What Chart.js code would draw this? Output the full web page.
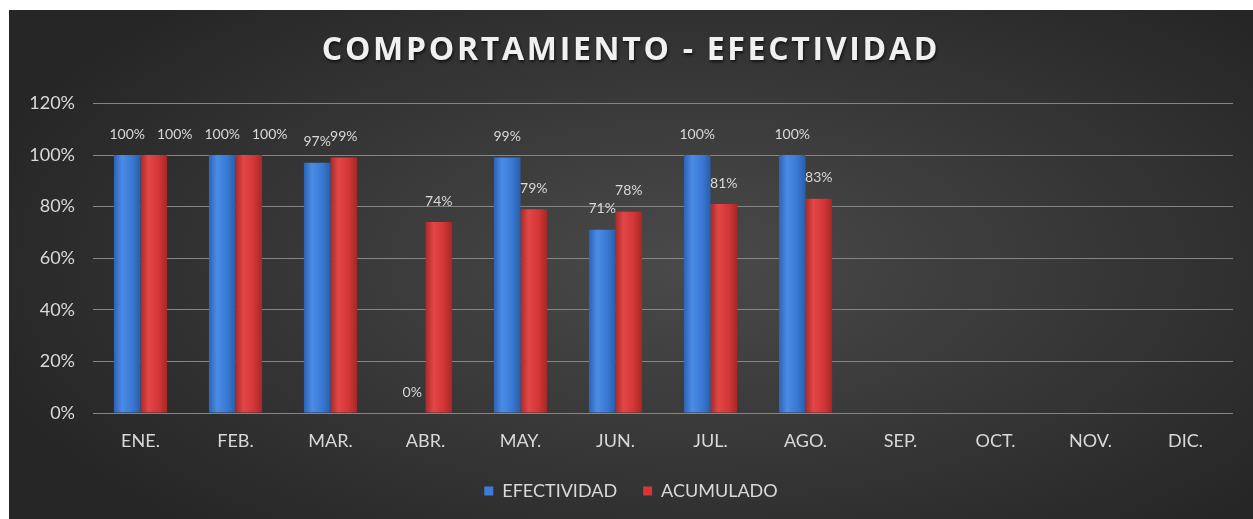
<!DOCTYPE html>
<html>
<head>
<meta charset="utf-8">
<script src="https://cdn.jsdelivr.net/npm/chart.js@4"></script>
<style>
  html,body{margin:0;padding:0;background:#fff;}
  #caja{position:absolute;left:9px;top:10px;width:1244px;height:509px;
    background:radial-gradient(ellipse 60% 70% at 55% 50%, #4a4a4a 0%, #3a3a3a 45%, #262626 100%);}
</style>
</head>
<body>
<div id="caja"><canvas id="grafica"></canvas></div>
<script>
// Datos
const meses = ['ENE.','FEB.','MAR.','ABR.','MAY.','JUN.','JUL.','AGO.','SEP.','OCT.','NOV.','DIC.'];
const efectividad = [100,100,97,0,99,71,100,100,null,null,null,null];
const acumulado = [100,100,99,74,79,78,81,83,null,null,null,null];
const ticksY = [0,20,40,60,80,100,120];

const fuente = 'Lato, "Open Sans", sans-serif';
const gris = '#d9d9d9';
const colores = [
  ['#2c62b4','#4a8ce6','#3878d2','#2a5ea8'],  // azul
  ['#a92a2a','#e24646','#d23535','#a52828']   // rojo
];

// Relleno con degradado horizontal en cada barra (efecto cilindro)
const degradado = {
  id:'degradado',
  beforeDatasetsDraw(chart){
    const ctx = chart.ctx;
    chart.data.datasets.forEach((ds,i)=>{
      const c = colores[i];
      chart.getDatasetMeta(i).data.forEach(bar=>{
        const x0 = bar.x - bar.width/2, x1 = bar.x + bar.width/2;
        const g = ctx.createLinearGradient(x0,0,x1,0);
        g.addColorStop(0,c[0]); g.addColorStop(0.3,c[1]); g.addColorStop(0.7,c[2]); g.addColorStop(1,c[3]);
        bar.options.backgroundColor = g;
      });
    });
  }
};

// Etiquetas de valor arriba de cada barra; si chocan a la misma altura se recorre la segunda
const etiquetas = {
  id:'etiquetas',
  afterDatasetsDraw(chart){
    const ctx = chart.ctx;
    ctx.save();
    ctx.font = '14px ' + fuente;
    ctx.fillStyle = gris;
    ctx.textAlign = 'center';
    ctx.textBaseline = 'middle';
    const n = chart.data.labels.length;
    for(let j=0;j<n;j++){
      let prev = null;
      chart.data.datasets.forEach((ds,i)=>{
        const v = ds.data[j];
        if(v===null || v===undefined) return;
        const bar = chart.getDatasetMeta(i).data[j];
        const txt = v + '%';
        const w = ctx.measureText(txt).width;
        let x = bar.x, y = bar.y - 21;
        if(prev && Math.abs(prev.y - y) < 3 && x - w/2 < prev.x + prev.w/2 + 4){
          x = prev.x + prev.w/2 + 12 + w/2;
        }
        ctx.fillText(txt, x, y);
        prev = {x, y, w};
      });
    }
    ctx.restore();
  }
};

// Titulo con espaciado entre letras y sombra
const tituloEspaciado = {
  id:'tituloEspaciado',
  afterLayout(chart){
    const tb = chart.titleBlock;
    if(!tb || tb._espaciado) return;
    const orig = tb.draw;
    tb.draw = function(){
      const ctx = this.ctx;
      ctx.save();
      ctx.letterSpacing = '2.7px';
      ctx.shadowColor = 'rgba(0,0,0,0.65)';
      ctx.shadowBlur = 3;
      ctx.shadowOffsetX = 1;
      ctx.shadowOffsetY = 2;
      orig.call(this);
      ctx.restore();
    };
    tb._espaciado = true;
  }
};

new Chart(document.getElementById('grafica'), {
  type:'bar',
  data:{
    labels: meses,
    datasets:[
      { label:'EFECTIVIDAD', data: efectividad, backgroundColor:()=>'#3b7dd8' },
      { label:'ACUMULADO', data: acumulado, backgroundColor:()=>'#d63636' }
    ]
  },
  options:{
    responsive:true,
    maintainAspectRatio:false,
    animation:false,
    categoryPercentage:0.56,
    barPercentage:1.0,
    layout:{ padding:{ left:0, right:0, top:0, bottom:9 } },
    plugins:{
      title:{ display:true, text:'COMPORTAMIENTO - EFECTIVIDAD', color:'#f0f0f0',
        font:{ family:'"Open Sans", sans-serif', size:32, weight:'bold' }, padding:{ top:22, bottom:33 } },
      legend:{ position:'bottom', labels:{ color:gris, font:{ family:fuente, size:18 },
        usePointStyle:true, pointStyle:'rect', boxWidth:9, boxHeight:9, padding:26 } },
      tooltip:{ enabled:false }
    },
    scales:{
      x:{
        grid:{ display:false, drawTicks:false },
        border:{ display:false },
        ticks:{ color:gris, font:{ family:fuente, size:18 }, padding:17 },
        afterFit(s){ s.height = 43; }
      },
      y:{
        min:0, max:120,
        afterBuildTicks(s){ s.ticks = ticksY.map(v=>({value:v})); },
        grid:{ color:'#858585', lineWidth:1, drawTicks:false },
        border:{ display:false },
        ticks:{ color:gris, font:{ family:fuente, size:18 }, padding:18, callback:v=>v+'%' },
        afterFit(s){ s.width = 84; }
      },
      // eje vacio a la derecha solo para dejar el margen
      y2:{
        type:'linear', position:'right', min:0, max:120,
        grid:{ display:false, drawTicks:false },
        border:{ display:false },
        ticks:{ display:false },
        afterFit(s){ s.width = 20; }
      }
    }
  },
  plugins:[tituloEspaciado, degradado, etiquetas]
});
</script>
</body>
</html>
